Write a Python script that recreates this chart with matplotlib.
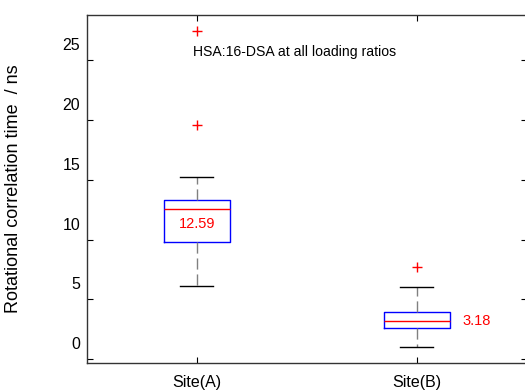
import matplotlib
matplotlib.use("Agg")
import matplotlib.pyplot as plt
import matplotlib.transforms as mtransforms

plt.rcParams['font.family'] = ['Liberation Sans', 'DejaVu Sans']

# ----------------------------
# Data
# ----------------------------
sites = ["Site(A)", "Site(B)"]
q1 = [9.8, 2.56]
medians = [12.59, 3.18]
q3 = [13.3, 3.95]
whis_lo = [6.1, 1.05]
whis_hi = [15.2, 6.05]
outliers = [[19.6, 27.4], [7.67]]
yticks = [0, 5, 10, 15, 20, 25]

stats = []
for i in range(len(sites)):
    stats.append(dict(label=sites[i], med=medians[i], q1=q1[i], q3=q3[i],
                      whislo=whis_lo[i], whishi=whis_hi[i], fliers=outliers[i]))

fig = plt.figure(figsize=(5.25, 3.91), dpi=100)
ax = fig.add_axes([0.1657, 0.0724, 0.838, 0.890])

ax.bxp(stats, positions=[1, 2], widths=0.3, capwidths=0.15,
       boxprops=dict(color='blue', linewidth=1.0),
       medianprops=dict(color='red', linewidth=1.0),
       whiskerprops=dict(color='#808080', linestyle=(0, (8, 3.5)), linewidth=1.0),
       capprops=dict(color='black', linewidth=1.0),
       flierprops=dict(marker='+', markeredgecolor='red', markersize=7, linestyle='none'))

# median labels
ax.text(1, 11.3, "%.2f" % medians[0], color='red', fontsize=10.5, ha='center', va='center')
ax.text(2.205, medians[1], "%.2f" % medians[1], color='red', fontsize=10.5, ha='left', va='center')

ax.text(0.98, 25.7, "HSA:16-DSA at all loading ratios", fontsize=10.1, ha='left', va='center')

ax.set_xlim(0.5, 2.5)
ax.set_ylim(-0.3, 28.8)
ax.set_yticks(yticks)
ax.set_xticks([1, 2])
ax.set_xticklabels(sites)
ax.tick_params(direction='in', length=4, top=True, right=True, labelsize=11.5)
ax.tick_params(axis='x', pad=9)
ax.tick_params(axis='y', pad=5)

# the y tick labels sit a bit above their tick marks in the original
offset = mtransforms.ScaledTranslation(0, 0.16, fig.dpi_scale_trans)
for lab in ax.get_yticklabels():
    lab.set_transform(lab.get_transform() + offset)

ax.set_ylabel("Rotational correlation time  / ns", fontsize=13)
ax.yaxis.set_label_coords(-0.148, 0.5)

for sp in ax.spines.values():
    sp.set_linewidth(1.0)
    sp.set_color('#333333')

fig.savefig("out.png", dpi=100)
